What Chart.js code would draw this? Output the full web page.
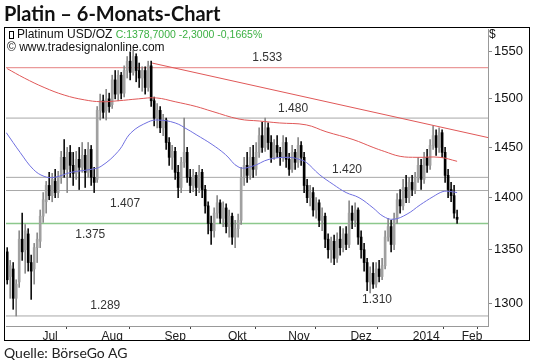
<!DOCTYPE html>
<html>
<head>
<meta charset="utf-8">
<script src="https://cdn.jsdelivr.net/npm/chart.js@4.4.1/dist/chart.umd.min.js"></script>
<style>
html, body { margin: 0; padding: 0; background: #fff; }
#wrap { position: relative; width: 540px; height: 364px; overflow: hidden; }
#c { position: absolute; left: 0; top: 0; }
.t { position: absolute; white-space: nowrap; }
#title { left: 4px; top: 1px; font: bold 20px Lato; color: #111; }
#box { position: absolute; left: 4px; top: 27px; width: 524px; height: 312px; border: 1.5px solid #000; }
#hdr1 { left: 8px; top: 27px; font: 12px "Liberation Sans"; color: #111; }
#hdr1 .g { color: #3cb043; font-size: 10.5px; }
#hdr2 { left: 7px; top: 40px; font: 12px "Liberation Sans"; color: #111; }
#dollar { left: 489px; top: 27px; font: 12px "Liberation Sans"; color: #111; }
#quelle { left: 4px; top: 344px; font: 14px Lato; color: #222; }
.ico { display: inline-block; width: 3px; height: 6px; border: 1px solid #000; margin: 0 3px 0 1px; vertical-align: -1px; }
</style>
</head>
<body>
<div id="wrap">
  <canvas id="c" width="540" height="364"></canvas>
  <div id="box"></div>
  <div class="t" id="title">Platin – 6-Monats-Chart</div>
  <div class="t" id="hdr1"><span class="ico"></span>Platinum USD/OZ <span class="g">C:1378,7000 -2,3000 -0,1665%</span></div>
  <div class="t" id="hdr2">© www.tradesignalonline.com</div>
  <div class="t" id="dollar">$</div>
  <div class="t" id="quelle">Quelle: BörseGo AG</div>
</div>
<script>
// daily candles, one per trading day (index 0 = late June 2013)
var opens = [1348,1325,1332,1305,1320,1360,1350,1365,1338,1332,
  1352,1358,1382,1396,1412,1402,1416,1405,1420,1440,
  1428,1445,1432,1424,1438,1430,1442,1425,1448,1420,
  1418,1488,1498,1488,1500,1494,1520,1505,1525,1506,
  1530,1540,1528,1545,1530,1522,1530,1512,1535,1498,
  1480,1488,1470,1478,1455,1440,1446,1425,1410,1435,
  1445,1420,1412,1422,1410,1425,1408,1392,1375,1368,
  1385,1395,1380,1390,1372,1382,1362,1370,1378,1420,
  1432,1422,1440,1428,1445,1462,1450,1470,1455,1440,
  1452,1445,1440,1455,1438,1428,1445,1435,1452,1440,
  1412,1400,1405,1388,1395,1378,1382,1360,1350,1358,
  1342,1360,1352,1365,1355,1385,1378,1388,1362,1350,
  1338,1320,1328,1318,1332,1325,1335,1362,1372,1355,
  1380,1398,1392,1410,1400,1415,1408,1420,1432,1418,
  1440,1432,1452,1462,1450,1465,1445,1422,1408,1402,
  1381];
var highs = [1352,1340,1338,1322,1368,1385,1374,1370,1345,1356,
  1366,1388,1405,1416,1425,1424,1428,1426,1446,1458,
  1450,1452,1445,1446,1450,1455,1448,1455,1452,1430,
  1492,1505,1504,1510,1506,1525,1530,1530,1528,1535,
  1545,1550,1552,1548,1538,1534,1534,1540,1540,1502,
  1495,1492,1484,1480,1460,1452,1450,1432,1440,1480,
  1450,1428,1428,1425,1432,1428,1412,1396,1382,1390,
  1402,1398,1396,1394,1388,1385,1378,1384,1430,1440,
  1445,1450,1452,1455,1470,1476,1480,1475,1462,1458,
  1462,1450,1462,1460,1444,1452,1448,1460,1456,1445,
  1418,1412,1410,1400,1398,1390,1385,1365,1362,1364,
  1366,1372,1370,1372,1397,1392,1395,1390,1368,1356,
  1342,1334,1338,1338,1340,1342,1368,1380,1378,1385,
  1404,1408,1418,1422,1420,1422,1425,1440,1438,1445,
  1448,1458,1472,1468,1470,1468,1450,1428,1415,1412,
  1388];
var lows = [1318,1305,1295,1289,1315,1340,1328,1330,1304,1318,
  1338,1352,1376,1385,1398,1396,1400,1400,1414,1420,
  1405,1420,1412,1418,1408,1425,1410,1420,1412,1405,
  1415,1478,1480,1478,1486,1490,1500,1498,1500,1502,
  1522,1520,1525,1518,1512,1508,1505,1508,1492,1472,
  1470,1465,1462,1448,1432,1428,1418,1400,1405,1430,
  1415,1405,1406,1402,1405,1400,1385,1365,1355,1362,
  1380,1375,1372,1366,1362,1355,1352,1362,1374,1412,
  1415,1418,1420,1422,1440,1445,1446,1448,1435,1438,
  1440,1432,1436,1430,1422,1425,1428,1430,1432,1405,
  1395,1392,1382,1380,1372,1368,1352,1342,1338,1336,
  1338,1345,1348,1350,1352,1370,1372,1355,1342,1330,
  1312,1310,1314,1315,1320,1322,1332,1358,1348,1350,
  1375,1385,1388,1395,1395,1402,1404,1415,1408,1414,
  1425,1428,1448,1442,1445,1440,1415,1400,1396,1380,
  1375];
var closes = [1322,1335,1305,1318,1360,1348,1368,1338,1330,1352,
  1360,1382,1398,1412,1402,1418,1405,1420,1440,1428,
  1445,1432,1424,1438,1430,1442,1425,1448,1420,1415,
  1488,1498,1486,1500,1492,1520,1505,1525,1506,1530,
  1540,1528,1545,1530,1522,1530,1512,1535,1498,1480,
  1488,1470,1478,1455,1440,1446,1425,1410,1435,1445,
  1420,1412,1422,1410,1425,1408,1392,1375,1368,1385,
  1395,1380,1390,1372,1382,1362,1370,1378,1420,1432,
  1422,1440,1428,1445,1462,1450,1470,1455,1440,1452,
  1445,1440,1455,1438,1428,1445,1435,1452,1440,1412,
  1400,1405,1388,1395,1378,1382,1360,1350,1358,1342,
  1360,1352,1365,1355,1385,1378,1388,1362,1350,1338,
  1320,1328,1318,1332,1325,1335,1362,1372,1355,1380,
  1398,1392,1410,1400,1415,1408,1420,1432,1418,1440,
  1432,1452,1462,1450,1465,1445,1422,1408,1402,1385,
  1379];

// moving averages (day index, price)
var maBlueDay = [-0.3,4.3,8.7,12.3,15.7,21.3,28,31.3,37,41.3,47,50.3,56,60.3,63,68.3,72.7,77.3,81.7,87.3,94,97.3,99.7,104,108.7,113,117.3,122,125.3,128.7,133.3,137.7,142,145.3,147.7,150];
var maBlue = [1465,1445,1428,1421,1420,1425,1428,1431,1446,1465,1476,1478,1475,1468,1463,1453,1443,1430,1431,1438,1440,1438,1435,1423,1413,1405,1400,1390,1382,1379,1384,1393,1401,1406,1406,1405];
var maRedDay = [0,5.7,12.3,19,25.7,31.3,37,43.7,49.7,56,63,68.3,77.3,84,90.7,99.7,106.3,115.3,122,125.7,131,136.7,144.3,150];
var maRed = [1532,1522,1512,1504,1499,1497,1498,1500,1501,1497,1492,1487,1479,1477,1475,1473,1466,1458,1450,1446,1441,1440,1440,1436];

// downtrend line
var trendDay = [48.3, 160.3];
var trendVal = [1538, 1460];

// horizontal levels
var levels = [1533, 1480, 1420, 1407, 1375, 1289];
var levelColors = ['#e58080', '#a8a8a8', '#a8a8a8', '#a8a8a8', '#8cc88c', '#a8a8a8'];
var noteText = ['1.533', '1.480', '1.420', '1.407', '1.375', '1.289', '1.310'];
var noteDay = [86.7, 95.3, 113.3, 39.3, 27.7, 32.7, 123.3];
var noteVal = [1544, 1490, 1428, 1394, 1364, 1298, 1304];

// axes
var monthStarts = [3.3, 25, 46.3, 66.3, 88.7, 108.3, 129, 151.3];
var monthMids = [14.3, 35, 56, 76.7, 97.3, 118, 139.7, 155];
var monthNames = ['Jul', 'Aug', 'Sep', 'Okt', 'Nov', 'Dez', '2014', 'Feb'];
var yTicks = [1300, 1350, 1400, 1450, 1500, 1550];

var xMin = -0.4, xMax = 160.3;

var bodies = [], wicks = [], bodyCol = [], wickCol = [];
for (var i = 0; i < closes.length; i++) {
  var up = closes[i] >= opens[i];
  bodies.push({x: i, y: [Math.min(opens[i], closes[i]), Math.max(opens[i], closes[i])]});
  wicks.push({x: i, y: [lows[i], highs[i]]});
  bodyCol.push(up ? '#a0a0a0' : '#000000');
  wickCol.push(up ? '#8a8a8a' : '#111111');
}

function pts(xs, ys) {
  var out = [];
  for (var i = 0; i < xs.length; i++) out.push({x: xs[i], y: ys[i]});
  return out;
}

var lineSets = [];
for (var k = 0; k < levels.length; k++) {
  lineSets.push({
    type: 'line', data: pts([xMin, xMax], [levels[k], levels[k]]),
    borderColor: levelColors[k], borderWidth: levels[k] == 1375 ? 1.5 : 1,
    pointRadius: 0, order: 5
  });
}

var noteLabels = {
  id: 'noteLabels',
  afterDatasetsDraw: function(chart) {
    var ctx = chart.ctx, x = chart.scales.x, y = chart.scales.y;
    ctx.save();
    ctx.font = '12px "Liberation Sans"';
    ctx.fillStyle = '#333';
    ctx.textAlign = 'center';
    ctx.textBaseline = 'middle';
    for (var i = 0; i < noteText.length; i++) {
      ctx.fillText(noteText[i], x.getPixelForValue(noteDay[i]), y.getPixelForValue(noteVal[i]));
    }
    ctx.restore();
  }
};

new Chart(document.getElementById('c'), {
  type: 'bar',
  data: {
    datasets: [
      {type: 'line', data: pts(maBlueDay, maBlue), borderColor: '#7070e0', borderWidth: 1, pointRadius: 0, tension: 0.4, order: 0},
      {type: 'line', data: pts(maRedDay, maRed), borderColor: '#e05858', borderWidth: 1, pointRadius: 0, tension: 0.4, order: 0},
      {type: 'line', data: pts(trendDay, trendVal), borderColor: '#e05858', borderWidth: 1, pointRadius: 0, order: 0},
      {data: bodies, backgroundColor: bodyCol, barThickness: 2, grouped: false, order: 1},
      {data: wicks, backgroundColor: wickCol, barThickness: 1, grouped: false, order: 2}
    ].concat(lineSets)
  },
  options: {
    responsive: false,
    animation: false,
    layout: {padding: {left: 6, top: 29, right: 10, bottom: 23}},
    plugins: {legend: {display: false}, tooltip: {enabled: false}},
    scales: {
      x: {
        type: 'linear', min: xMin, max: xMax, offset: false,
        afterBuildTicks: function(s) {
          s.ticks = monthStarts.concat(monthMids).sort(function(a, b) { return a - b; }).map(function(v) { return {value: v}; });
        },
        afterFit: function(s) { s.height = 15; },
        ticks: {
          autoSkip: false, maxRotation: 0, padding: 0, color: '#222',
          font: {family: 'Liberation Sans', size: 12},
          callback: function(v) { var k = monthMids.indexOf(v); return k >= 0 ? monthNames[k] : ''; }
        },
        grid: {
          drawOnChartArea: false, tickLength: 3,
          tickColor: function(c) { return (c.tick && monthMids.indexOf(c.tick.value) >= 0) ? 'rgba(0,0,0,0)' : '#444'; }
        },
        border: {color: '#999'}
      },
      y: {
        type: 'logarithmic', position: 'right', min: 1280, max: 1575,
        afterBuildTicks: function(s) { s.ticks = yTicks.map(function(v) { return {value: v}; }); },
        afterFit: function(s) { s.width = 42; },
        ticks: {
          color: '#111', padding: 2,
          font: {family: 'Liberation Sans', size: 13},
          callback: function(v) { return String(v); }
        },
        grid: {drawOnChartArea: false, tickLength: 4, color: '#888'},
        border: {color: '#999'}
      }
    }
  },
  plugins: [noteLabels]
});
</script>
</body>
</html>
